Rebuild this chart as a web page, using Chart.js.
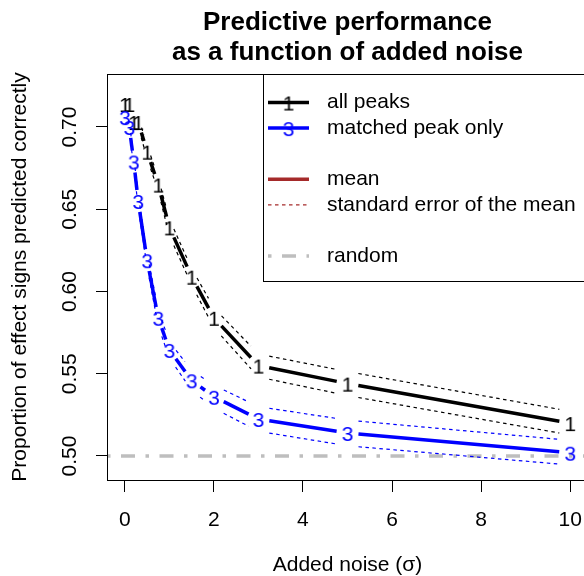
<!DOCTYPE html>
<html>
<head>
<meta charset="utf-8">
<script src="https://cdn.jsdelivr.net/npm/chart.js@4.4.1/dist/chart.umd.min.js"></script>
<style>
  html, body { margin: 0; padding: 0; background: #fff; overflow: hidden; width: 584px; height: 576px; }
  #wrap { width: 600px; height: 576px; }
</style>
</head>
<body>
<div id="wrap"><canvas id="chart" width="600" height="576"></canvas></div>
<script>
// noise levels (sigma) and the two series
const NOISE = [0, 0.1, 0.2, 0.3, 0.5, 0.75, 1, 1.5, 2, 3, 5, 10];
const ALL_PEAKS = [0.714, 0.714, 0.703, 0.703, 0.685, 0.665, 0.639, 0.609, 0.584, 0.555, 0.544, 0.520];
const ALL_PEAKS_SE = [0.003, 0.003, 0.003, 0.003, 0.004, 0.004, 0.005, 0.005, 0.006, 0.007, 0.0073, 0.0072];
const MATCHED = [0.706, 0.700, 0.679, 0.655, 0.619, 0.584, 0.5645, 0.546, 0.536, 0.5225, 0.514, 0.502];
const MATCHED_SE = [0.003, 0.003, 0.003, 0.004, 0.004, 0.005, 0.005, 0.006, 0.007, 0.0075, 0.0078, 0.0075];
const RANDOM_LEVEL = 0.5;

const X_TICKS = [0, 2, 4, 6, 8, 10];
const Y_TICKS = [0.5, 0.55, 0.6, 0.65, 0.7];
const X_RANGE = [-0.4, 10.4];
const Y_RANGE = [0.4854, 0.7322];

const TITLE_LINES = ["Predictive performance", "as a function of added noise"];
const X_LABEL = "Added noise (\u03c3)";
const Y_LABEL = "Proportion of effect signs predicted correctly";
const LEGEND_LABELS = ["all peaks", "matched peak only", "", "mean", "standard error of the mean", "", "random"];

const FONT = '"Liberation Sans", Arial, Helvetica, sans-serif';
const BASE_PX = 21;
const BLUE = "#0000ff";
const BROWN = "#a52a2a";
const GREY = "#bebebe";
const SE_DASH = [3.5, 3.5];
const RANDOM_DASH = [3.5, 10.5, 14, 10.5];

Chart.defaults.font.family = FONT;
Chart.defaults.color = "#000";

// digit plotting symbols, like R's pch = "1" / "3"
function makeGlyph(ch, color) {
  const c = document.createElement("canvas");
  c.width = 24;
  c.height = 26;
  const g = c.getContext("2d");
  g.font = `${BASE_PX}px ${FONT}`;
  g.fillStyle = color;
  g.textAlign = "center";
  g.textBaseline = "alphabetic";
  g.fillText(ch, 12, 13 + 0.716 * BASE_PX / 2);
  return c;
}
const GLYPH_ONE = makeGlyph("1", "#000");
const GLYPH_THREE = makeGlyph("3", BLUE);

function pointsOf(ys, se, sign) {
  return NOISE.map((x, i) => ({ x, y: ys[i] + (se ? sign * se[i] : 0) }));
}

// type = "b": segments stop short of every point
const gapLines = {
  id: "gapLines",
  afterDatasetDraw(chart, args) {
    const ds = chart.data.datasets[args.index];
    if (!ds.gap) return;
    const pts = args.meta.data;
    const { ctx, chartArea: a } = chart;
    ctx.save();
    ctx.beginPath();
    ctx.rect(a.left, a.top, a.right - a.left, a.bottom - a.top);
    ctx.clip();
    ctx.strokeStyle = ds.borderColor;
    ctx.lineWidth = ds.borderWidth;
    ctx.lineCap = "butt";
    for (let i = 1; i < pts.length; i++) {
      const p = pts[i - 1], q = pts[i];
      const dx = q.x - p.x, dy = q.y - p.y;
      const len = Math.hypot(dx, dy);
      if (len <= 2 * ds.gap) continue;
      const ux = dx / len, uy = dy / len;
      ctx.setLineDash(ds.borderDash || []);
      ctx.beginPath();
      ctx.moveTo(p.x + ux * ds.gap, p.y + uy * ds.gap);
      ctx.lineTo(q.x - ux * ds.gap, q.y - uy * ds.gap);
      ctx.stroke();
    }
    ctx.restore();
  },
};

const plotBox = {
  id: "plotBox",
  afterDraw(chart) {
    const { ctx, chartArea: a } = chart;
    ctx.save();
    ctx.strokeStyle = "#000";
    ctx.lineWidth = 1;
    ctx.strokeRect(Math.round(a.left) + 0.5, Math.round(a.top) + 0.5, Math.round(a.right - a.left), Math.round(a.bottom - a.top));
    ctx.restore();
  },
};

const legendBox = {
  id: "legendBox",
  afterDraw(chart) {
    const { ctx, chartArea: a } = chart;
    const samples = [
      { color: "#000", width: 3.5, dash: [], glyph: GLYPH_ONE },
      { color: BLUE, width: 3.5, dash: [], glyph: GLYPH_THREE },
      null,
      { color: BROWN, width: 3.5, dash: [] },
      { color: BROWN, width: 1.2, dash: SE_DASH },
      null,
      { color: GREY, width: 3.5, dash: RANDOM_DASH },
    ];
    ctx.save();
    ctx.font = `${BASE_PX}px ${FONT}`;
    const textW = Math.max(...LEGEND_LABELS.map((t) => ctx.measureText(t).width));
    const left = Math.round(a.right - 12 - textW - 64);
    const top = Math.round(a.top);
    const firstRow = 28.5;
    const rowH = 25.6;
    const height = Math.round(firstRow + rowH * (LEGEND_LABELS.length - 1) + 24.9);
    ctx.fillStyle = "#fff";
    ctx.fillRect(left, top, a.right - left, height);
    ctx.strokeStyle = "#000";
    ctx.lineWidth = 1;
    ctx.strokeRect(left + 0.5, top + 0.5, a.right - left, height);
    LEGEND_LABELS.forEach((label, i) => {
      const s = samples[i];
      if (!label || !s) return;
      const y = top + firstRow + i * rowH;
      ctx.strokeStyle = s.color;
      ctx.lineWidth = s.width;
      ctx.setLineDash(s.dash);
      ctx.beginPath();
      ctx.moveTo(left + 5, y);
      ctx.lineTo(left + 46, y);
      ctx.stroke();
      ctx.setLineDash([]);
      if (s.glyph) ctx.drawImage(s.glyph, left + 25.5 - s.glyph.width / 2, y - s.glyph.height / 2);
      ctx.fillStyle = "#000";
      ctx.textAlign = "left";
      ctx.textBaseline = "middle";
      ctx.fillText(label, left + 64, y);
    });
    ctx.restore();
  },
};

const seLine = (ys, se, sign, color, order) => ({
  data: pointsOf(ys, se, sign),
  borderColor: color,
  borderWidth: 1.2,
  borderDash: SE_DASH,
  showLine: false,
  pointRadius: 0,
  gap: 11,
  order,
});

new Chart(document.getElementById("chart"), {
  type: "line",
  data: {
    datasets: [
      {
        data: [{ x: X_RANGE[0], y: RANDOM_LEVEL }, { x: X_RANGE[1], y: RANDOM_LEVEL }],
        borderColor: GREY,
        borderWidth: 3.5,
        borderDash: RANDOM_DASH,
        pointRadius: 0,
        order: 7,
      },
      seLine(ALL_PEAKS, ALL_PEAKS_SE, 1, "#000", 6),
      seLine(ALL_PEAKS, ALL_PEAKS_SE, -1, "#000", 5),
      {
        data: pointsOf(ALL_PEAKS),
        borderColor: "#000",
        borderWidth: 3.5,
        showLine: false,
        pointStyle: GLYPH_ONE,
        pointRadius: 6,
        gap: 11,
        order: 4,
      },
      seLine(MATCHED, MATCHED_SE, 1, BLUE, 3),
      seLine(MATCHED, MATCHED_SE, -1, BLUE, 2),
      {
        data: pointsOf(MATCHED),
        borderColor: BLUE,
        borderWidth: 3.5,
        showLine: false,
        pointStyle: GLYPH_THREE,
        pointRadius: 6,
        gap: 11,
        order: 1,
      },
    ],
  },
  options: {
    responsive: false,
    animation: false,
    events: [],
    devicePixelRatio: 1,
    layout: { padding: { top: 0, left: 0, right: 12, bottom: 0 } },
    plugins: {
      legend: { display: false },
      tooltip: { enabled: false },
      title: {
        display: true,
        text: TITLE_LINES,
        fullSize: false,
        color: "#000",
        font: { size: 26, weight: "bold", lineHeight: "30px" },
        padding: { top: 8, bottom: 6 },
      },
    },
    scales: {
      x: {
        type: "linear",
        min: X_RANGE[0],
        max: X_RANGE[1],
        afterBuildTicks: (s) => { s.ticks = X_TICKS.map((v) => ({ value: v })); },
        afterFit: (s) => { s.height = 96; },
        ticks: { font: { size: BASE_PX }, padding: 16, maxRotation: 0, minRotation: 0, autoSkip: false, callback: (v) => String(v) },
        grid: { drawOnChartArea: false, drawTicks: true, tickLength: 12, tickColor: "#000", tickWidth: 1 },
        border: { display: false },
        title: { display: true, text: X_LABEL, font: { size: BASE_PX, lineHeight: 1 }, padding: { top: 0, bottom: 0 } },
      },
      y: {
        type: "linear",
        min: Y_RANGE[0],
        max: Y_RANGE[1],
        afterBuildTicks: (s) => { s.ticks = Y_TICKS.map((v) => ({ value: v })); },
        afterFit: (s) => { s.width = 107; },
        ticks: { font: { size: BASE_PX }, padding: 5, minRotation: 90, maxRotation: 90, crossAlign: "center", autoSkip: false, callback: (v) => v.toFixed(2) },
        grid: { drawOnChartArea: false, drawTicks: true, tickLength: 11, tickColor: "#000", tickWidth: 1 },
        border: { display: false },
        title: { display: true, text: Y_LABEL, font: { size: BASE_PX, lineHeight: 1 }, padding: { top: 10, bottom: 0 } },
      },
    },
  },
  plugins: [gapLines, plotBox, legendBox],
});
</script>
</body>
</html>
